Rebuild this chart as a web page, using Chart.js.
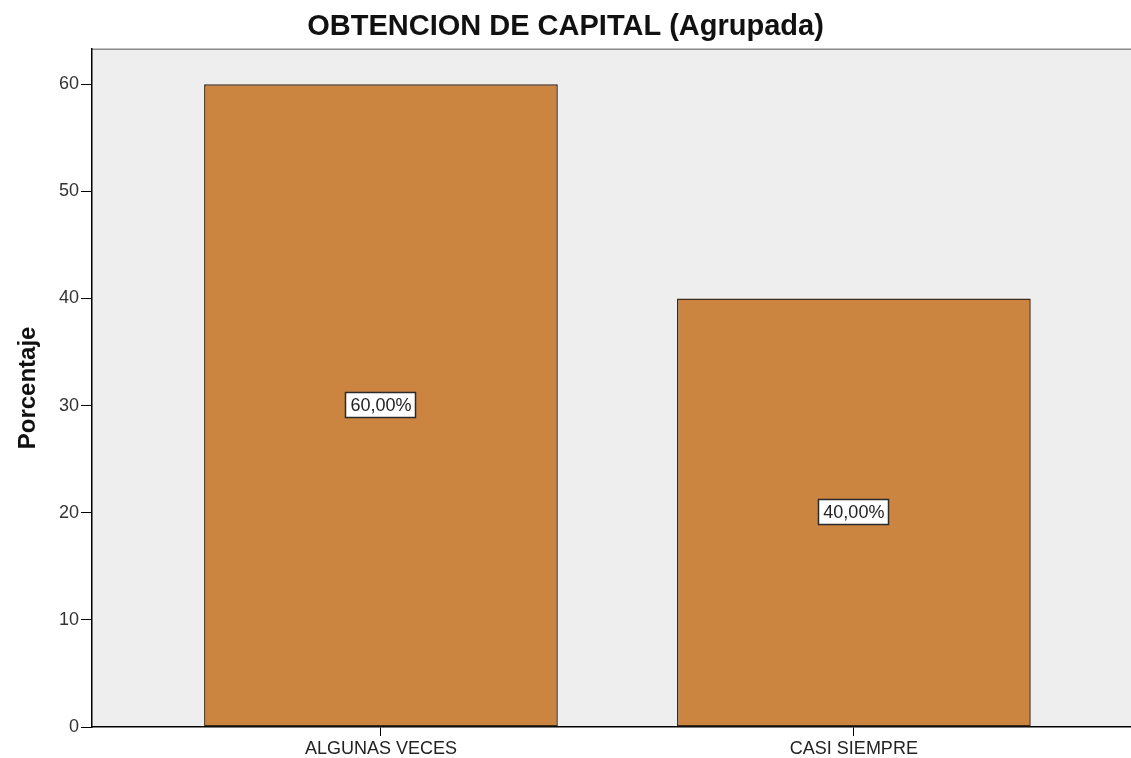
<!DOCTYPE html>
<html>
<head>
<meta charset="utf-8">
<script src="https://cdn.jsdelivr.net/npm/chart.js@4.4.1/dist/chart.umd.min.js"></script>
<style>
  html, body { margin: 0; padding: 0; background: #fff; overflow: hidden; }
  canvas { display: block; }
</style>
</head>
<body>
<canvas id="myChart" width="1131" height="758"></canvas>
<script>
const chartTitle = 'OBTENCION DE CAPITAL (Agrupada)';
const yTitle = 'Porcentaje';
const categories = ['ALGUNAS VECES', 'CASI SIEMPRE'];
const percentages = [60, 40];
const valueLabels = ['60,00%', '40,00%'];
const yTicks = [0, 10, 20, 30, 40, 50, 60];

const FONT = "'Liberation Sans', Arial, sans-serif";

// plot background + grey top frame line
const plotBackground = {
    id: 'plotBackground',
    beforeDraw(chart) {
        const { ctx, chartArea: a } = chart;
        ctx.save();
        ctx.fillStyle = '#eeeeee';
        ctx.fillRect(a.left, a.top, a.right - a.left, a.bottom - a.top);
        ctx.strokeStyle = '#8a8a8a';
        ctx.lineWidth = 1.5;
        ctx.beginPath();
        ctx.moveTo(a.left, a.top + 0.5);
        ctx.lineTo(a.right, a.top + 0.5);
        ctx.stroke();
        ctx.restore();
    }
};

// boxed value labels in the middle of each bar
const barLabels = {
    id: 'barLabels',
    afterDatasetsDraw(chart) {
        const { ctx } = chart;
        const meta = chart.getDatasetMeta(0);
        ctx.save();
        ctx.font = '18px ' + FONT;
        ctx.textAlign = 'center';
        ctx.textBaseline = 'middle';
        meta.data.forEach((bar, i) => {
            const text = valueLabels[i];
            const cx = bar.x;
            const cy = (bar.y + bar.base) / 2;
            const w = ctx.measureText(text).width + 10;
            const h = 26;
            ctx.fillStyle = '#ffffff';
            ctx.fillRect(Math.round(cx - w / 2), Math.round(cy - h / 2), Math.round(w), h);
            ctx.strokeStyle = '#2a2a2a';
            ctx.lineWidth = 1.5;
            ctx.strokeRect(Math.round(cx - w / 2) + 0.5, Math.round(cy - h / 2) + 0.5, Math.round(w) - 1, h - 1);
            ctx.fillStyle = '#222222';
            ctx.fillText(text, cx, cy + 1);
        });
        ctx.restore();
    }
};

const ctx = document.getElementById('myChart').getContext('2d');
const chart = new Chart(ctx, {
    type: 'bar',
    data: {
        datasets: [{
            data: categories.map((c, i) => ({ x: i, y: percentages[i] })),
            backgroundColor: '#cb8540',
            borderColor: '#3d2a18',
            borderWidth: 1.5,
            borderSkipped: false,
            barPercentage: 0.748,
            categoryPercentage: 1
        }]
    },
    options: {
        responsive: false,
        animation: false,
        layout: { padding: 0 },
        plugins: {
            legend: { display: false },
            tooltip: { enabled: false },
            title: {
                display: true,
                text: chartTitle,
                color: '#111',
                font: { family: FONT, size: 29, weight: 'bold' },
                padding: { top: 10, bottom: 4 }
            }
        },
        scales: {
            x: {
                type: 'linear',
                offset: false,
                min: -0.611,
                max: 1.586,
                afterBuildTicks(scale) {
                    scale.ticks = categories.map((c, i) => ({ value: i }));
                },
                afterFit(scale) { scale.height = 31; },
                ticks: {
                    callback: (v) => categories[v],
                    color: '#222',
                    font: { family: FONT, size: 18 },
                    padding: 2,
                    maxRotation: 0,
                    autoSkip: false
                },
                grid: {
                    display: true,
                    offset: false,
                    drawOnChartArea: false,
                    drawTicks: true,
                    tickLength: 9,
                    color: '#000'
                },
                border: { display: true, color: '#000', width: 1.5 }
            },
            y: {
                min: 0,
                max: 63.3,
                afterBuildTicks(scale) {
                    scale.ticks = yTicks.map(v => ({ value: v }));
                },
                afterFit(scale) { scale.width = 92; },
                ticks: {
                    color: '#333',
                    font: { family: FONT, size: 18 },
                    padding: 2
                },
                grid: {
                    display: true,
                    drawOnChartArea: false,
                    drawTicks: true,
                    tickLength: 11,
                    color: '#000'
                },
                border: { display: true, color: '#000', width: 1.5 },
                title: {
                    display: true,
                    text: yTitle,
                    color: '#111',
                    font: { family: FONT, size: 24, weight: 'bold' },
                    padding: { top: 14, bottom: 0 }
                }
            }
        }
    },
    plugins: [plotBackground, barLabels]
});
</script>
</body>
</html>
